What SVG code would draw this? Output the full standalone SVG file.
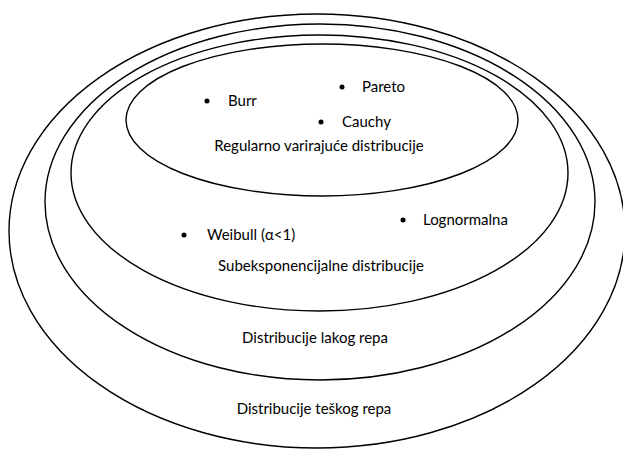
<svg xmlns="http://www.w3.org/2000/svg" width="623" height="449" viewBox="0 0 623 449">
<style>
.e{fill:none;stroke:#000;stroke-width:1.4}
.t{font-family:Lato,"Liberation Sans",sans-serif;font-size:15px;fill:#000}
.m{text-anchor:middle}
.b{fill:#000}
</style>
<rect width="623" height="449" fill="#fff"/>
<g id="heavy-tail">
<ellipse class="e" cx="317" cy="231" rx="308" ry="217"/>
<text class="t m" x="314" y="414">Distribucije teškog repa</text>
</g>
<g id="long-tail">
<ellipse class="e" cx="320" cy="202" rx="275" ry="178"/>
<text class="t m" x="315" y="343">Distribucije lakog repa</text>
</g>
<g id="subexponential">
<ellipse class="e" cx="319.5" cy="173" rx="248.5" ry="138"/>
<text class="t m" x="321" y="271">Subeksponencijalne distribucije</text>
<g id="weibull"><circle class="b" cx="184" cy="235" r="2.5"/><text class="t" x="207" y="240">Weibull (α&lt;1)</text></g>
<g id="lognormal"><circle class="b" cx="403" cy="220" r="2.5"/><text class="t" x="423" y="225">Lognormalna</text></g>
</g>
<g id="regularly-varying">
<ellipse class="e" cx="322" cy="120" rx="196" ry="76"/>
<text class="t m" x="319" y="151">Regularno varirajuće distribucije</text>
<g id="burr"><circle class="b" cx="207" cy="101" r="2.5"/><text class="t" x="228" y="106">Burr</text></g>
<g id="pareto"><circle class="b" cx="342" cy="87" r="2.5"/><text class="t" x="362" y="92">Pareto</text></g>
<g id="cauchy"><circle class="b" cx="321" cy="122" r="2.5"/><text class="t" x="342" y="127">Cauchy</text></g>
</g>
</svg>
